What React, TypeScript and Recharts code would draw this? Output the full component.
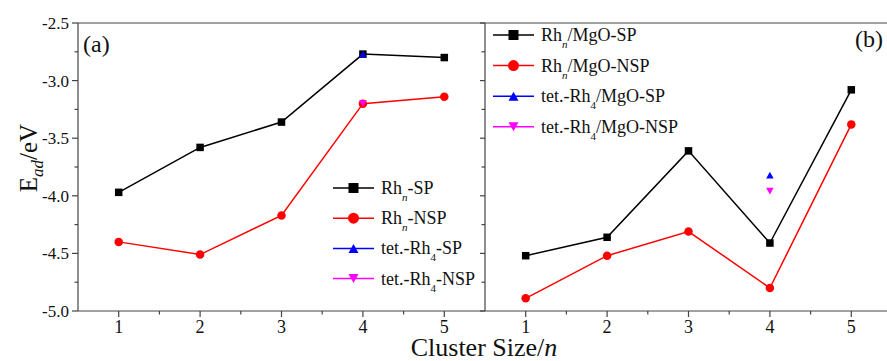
import React from "react";
import { LineChart, Line, XAxis, YAxis, Legend } from "recharts";

const FONT = "'Liberation Serif', 'Times New Roman', serif";
const AXIS = "#444";
const serif = { fontFamily: FONT };

// cluster size n
const clusterSizes = [1, 2, 3, 4, 5];
// panel (a): free Rh_n clusters
const rhSP = [-3.97, -3.58, -3.36, -2.77, -2.8];
const rhNSP = [-4.4, -4.51, -4.17, -3.2, -3.14];
const tetRh4SP = [-2.77];
const tetRh4NSP = [-3.2];
// panel (b): Rh_n on MgO
const mgoSP = [-4.52, -4.36, -3.61, -4.41, -3.08];
const mgoNSP = [-4.89, -4.52, -4.31, -4.8, -3.38];
const tetMgoSP = [-3.82];
const tetMgoNSP = [-3.96];

const xTicks = [1, 1.5, 2, 2.5, 3, 3.5, 4, 4.5, 5];
const yTicks = [-5.0, -4.75, -4.5, -4.25, -4.0, -3.75, -3.5, -3.25, -3.0, -2.75, -2.5];

const toPoints = (xs: number[], ys: number[]) => ys.map((y, i) => ({ x: xs[i], y }));

type Shape = "square" | "circle" | "up" | "down";

function Marker({ cx, cy, shape, color, s }: { cx: number; cy: number; shape: Shape; color: string; s: number }) {
  if (shape === "square") return <rect x={cx - s / 2} y={cy - s / 2} width={s} height={s} fill={color} />;
  if (shape === "circle") return <circle cx={cx} cy={cy} r={s / 2 + 0.5} fill={color} />;
  const h = s * 0.9;
  if (shape === "up")
    return <polygon points={`${cx - s / 2},${cy + h / 2} ${cx + s / 2},${cy + h / 2} ${cx},${cy - h / 2}`} fill={color} />;
  return <polygon points={`${cx - s / 2},${cy - h / 2} ${cx + s / 2},${cy - h / 2} ${cx},${cy + h / 2}`} fill={color} />;
}

const dotFn = (shape: Shape, color: string) => (props: any) => {
  const { cx, cy, index } = props;
  if (cx == null || cy == null) return <g key={`d-${index}`} />;
  return (
    <g key={`d-${shape}-${index}`}>
      <Marker cx={cx} cy={cy} shape={shape} color={color} s={7.5} />
    </g>
  );
};

// tick renderers (tickSize 0 → x/y is the axis line itself)
const BottomTick = (props: any) => {
  const { x, y, payload } = props;
  const major = Number.isInteger(payload.value);
  return (
    <g>
      <line x1={x} x2={x} y1={y} y2={y + (major ? 6 : 3.5)} stroke={AXIS} strokeWidth={1.2} />
      {major && (
        <text x={x} y={y + 22} textAnchor="middle" fontSize={18} fill="#111" style={serif}>
          {payload.value}
        </text>
      )}
    </g>
  );
};

const TopTick = (props: any) => {
  const { x, y, payload } = props;
  const major = Number.isInteger(payload.value);
  return <line x1={x} x2={x} y1={y} y2={y + (major ? 5 : 3.5)} stroke={AXIS} strokeWidth={1.2} />;
};

const LeftTick = (props: any) => {
  const { x, y, payload } = props;
  const major = Number.isInteger(payload.value * 2);
  return (
    <g>
      <line x1={x} x2={x - (major ? 6 : 3.5)} y1={y} y2={y} stroke={AXIS} strokeWidth={1.2} />
      {major && (
        <text x={x - 9} y={y + 6} textAnchor="end" fontSize={17} fill="#111" style={serif}>
          {payload.value.toFixed(1)}
        </text>
      )}
    </g>
  );
};

const RightTick = (props: any) => {
  const { x, y, payload } = props;
  const major = Number.isInteger(payload.value * 2);
  return <line x1={x} x2={x - (major ? 5 : 3.5)} y1={y} y2={y} stroke={AXIS} strokeWidth={1.2} />;
};

interface LegendEntry {
  base: string;
  sub: string;
  subItalic: boolean;
  rest: string;
  color: string;
  shape: Shape;
}

function LegendBox({ entries, step }: { entries: LegendEntry[]; step: number }) {
  return (
    <svg width={200} height={step * entries.length + 10} style={{ overflow: "visible" }}>
      {entries.map((e, i) => {
        const cy = 14 + i * step;
        return (
          <g key={i}>
            <line x1={3} x2={44} y1={cy} y2={cy} stroke={e.color} strokeWidth={1.5} />
            <Marker cx={23.5} cy={cy} shape={e.shape} color={e.color} s={10} />
            <text x={51} y={cy + 6} fontSize={18} fill="#111" style={serif}>
              <tspan>{e.base}</tspan>
              <tspan dy={7} fontSize={11} fontStyle={e.subItalic ? "italic" : "normal"}>
                {e.sub}
              </tspan>
              <tspan dy={-7}>{e.rest}</tspan>
            </text>
          </g>
        );
      })}
    </svg>
  );
}

const legendA: LegendEntry[] = [
  { base: "Rh", sub: "n", subItalic: true, rest: "-SP", color: "#000000", shape: "square" },
  { base: "Rh", sub: "n", subItalic: true, rest: "-NSP", color: "#ff0000", shape: "circle" },
  { base: "tet.-Rh", sub: "4", subItalic: false, rest: "-SP", color: "#0000ff", shape: "up" },
  { base: "tet.-Rh", sub: "4", subItalic: false, rest: "-NSP", color: "#ff00ff", shape: "down" },
];

const legendB: LegendEntry[] = [
  { base: "Rh", sub: "n", subItalic: true, rest: "/MgO-SP", color: "#000000", shape: "square" },
  { base: "Rh", sub: "n", subItalic: true, rest: "/MgO-NSP", color: "#ff0000", shape: "circle" },
  { base: "tet.-Rh", sub: "4", subItalic: false, rest: "/MgO-SP", color: "#0000ff", shape: "up" },
  { base: "tet.-Rh", sub: "4", subItalic: false, rest: "/MgO-NSP", color: "#ff00ff", shape: "down" },
];

interface PanelProps {
  sp: number[];
  nsp: number[];
  tetSP: number[];
  tetNSP: number[];
  legend: LegendEntry[];
  legendPos: { left: number; top: number };
  legendStep: number;
  leftAxis: boolean;
  width: number;
}

function Panel({ sp, nsp, tetSP, tetNSP, legend, legendPos, legendStep, leftAxis, width }: PanelProps) {
  const axisLine = { stroke: AXIS, strokeWidth: 1.2 };
  return (
    <LineChart width={width} height={361} margin={{ top: 23, right: 1, bottom: 20, left: 0 }} style={serif}>
      <XAxis
        dataKey="x"
        type="number"
        domain={[0.5, 5.5]}
        ticks={xTicks}
        interval={0}
        tickSize={0}
        tickMargin={0}
        tickLine={false}
        tick={BottomTick}
        axisLine={axisLine}
        height={30}
        allowDataOverflow
      />
      <XAxis
        xAxisId="top"
        orientation="top"
        mirror
        type="number"
        domain={[0.5, 5.5]}
        ticks={xTicks}
        interval={0}
        tickSize={0}
        tickMargin={0}
        tickLine={false}
        tick={TopTick}
        axisLine={axisLine}
        allowDataOverflow
      />
      <YAxis
        type="number"
        domain={[-5, -2.5]}
        ticks={yTicks}
        interval={0}
        tickSize={0}
        tickMargin={0}
        tickLine={false}
        tick={LeftTick}
        axisLine={axisLine}
        width={78}
        hide={!leftAxis}
        allowDataOverflow
      />
      <YAxis
        yAxisId="right"
        orientation="right"
        mirror
        type="number"
        domain={[-5, -2.5]}
        ticks={yTicks}
        interval={0}
        tickSize={0}
        tickMargin={0}
        tickLine={false}
        tick={RightTick}
        axisLine={axisLine}
        allowDataOverflow
      />
      <Legend
        verticalAlign="middle"
        align="center"
        wrapperStyle={{ left: legendPos.left, top: legendPos.top, width: 200 }}
        content={() => <LegendBox entries={legend} step={legendStep} />}
      />
      <Line
        data={toPoints(clusterSizes, sp)}
        dataKey="y"
        stroke="#000000"
        strokeWidth={1.5}
        dot={dotFn("square", "#000000")}
        activeDot={false}
        isAnimationActive={false}
      />
      <Line
        data={toPoints(clusterSizes, nsp)}
        dataKey="y"
        stroke="#ff0000"
        strokeWidth={1.5}
        dot={dotFn("circle", "#ff0000")}
        activeDot={false}
        isAnimationActive={false}
      />
      <Line
        data={toPoints([4], tetSP)}
        dataKey="y"
        stroke="#0000ff"
        strokeWidth={1.5}
        dot={dotFn("up", "#0000ff")}
        activeDot={false}
        isAnimationActive={false}
      />
      <Line
        data={toPoints([4], tetNSP)}
        dataKey="y"
        stroke="#ff00ff"
        strokeWidth={1.5}
        dot={dotFn("down", "#ff00ff")}
        activeDot={false}
        isAnimationActive={false}
      />
    </LineChart>
  );
}

export default function App() {
  return (
    <div
      style={{
        position: "absolute",
        left: 0,
        top: 0,
        width: 887,
        height: 361,
        overflow: "hidden",
        background: "#fff",
        fontFamily: FONT,
      }}
    >
      <div style={{ position: "absolute", left: 0, top: 0 }}>
        <Panel
          sp={rhSP}
          nsp={rhNSP}
          tetSP={tetRh4SP}
          tetNSP={tetRh4NSP}
          legend={legendA}
          legendPos={{ left: 330, top: 174 }}
          legendStep={30.2}
          leftAxis
          width={486}
        />
      </div>
      <div style={{ position: "absolute", left: 485, top: 0 }}>
        <Panel
          sp={mgoSP}
          nsp={mgoNSP}
          tetSP={tetMgoSP}
          tetNSP={tetMgoNSP}
          legend={legendB}
          legendPos={{ left: 5, top: 21 }}
          legendStep={30.6}
          leftAxis={false}
          width={408}
        />
      </div>
      <svg width={887} height={361} style={{ position: "absolute", left: 0, top: 0, pointerEvents: "none" }}>
        <text x={83} y={52} fontSize={24} fill="#111" style={serif}>
          (a)
        </text>
        <text x={883} y={47} fontSize={24} fill="#111" style={serif} textAnchor="end">
          (b)
        </text>
        <text x={37} y={158} fontSize={25} fill="#111" style={serif} textAnchor="middle" transform="rotate(-90 37 158)">
          <tspan>E</tspan>
          <tspan dy={6} fontSize={17} fontStyle="italic">
            ad
          </tspan>
          <tspan dy={-6}>/eV</tspan>
        </text>
        <text x={484} y={356} fontSize={26} fill="#111" style={serif} textAnchor="middle">
          <tspan>Cluster Size/</tspan>
          <tspan fontStyle="italic">n</tspan>
        </text>
      </svg>
    </div>
  );
}
